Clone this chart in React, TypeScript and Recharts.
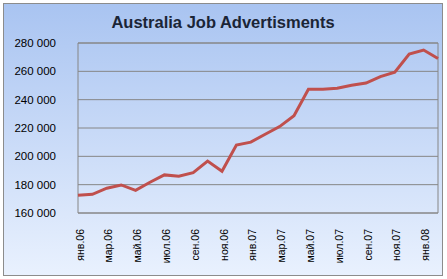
import { LineChart, Line, XAxis, YAxis, CartesianGrid, ReferenceArea } from "recharts";

const months = [
  "янв.06", "фев.06", "мар.06", "апр.06", "май.06", "июн.06", "июл.06", "авг.06",
  "сен.06", "окт.06", "ноя.06", "дек.06", "янв.07", "фев.07", "мар.07", "апр.07",
  "май.07", "июн.07", "июл.07", "авг.07", "сен.07", "окт.07", "ноя.07", "дек.07",
  "янв.08", "фев.08",
];

const adverts = [
  172500, 173200, 177500, 179800, 176000, 181700, 186900, 186000,
  188500, 196700, 189500, 208000, 210000, 215600, 221000, 228700,
  247400, 247400, 248100, 250200, 251700, 256300, 259400, 272200,
  275000, 269000,
];

const yTicks = [160000, 180000, 200000, 220000, 240000, 260000, 280000];

const data = months.map((m, i) => ({ month: m, value: adverts[i] }));

const font = "'Liberation Sans', Arial, sans-serif";

const MonthTick = (props: any) => {
  const { x, y, payload } = props;
  return (
    <text
      x={x + 2}
      y={y + 8}
      transform={`rotate(-90 ${x + 2} ${y + 8})`}
      textAnchor="end"
      dy="0.35em"
      fontSize={10.5}
      fontFamily={font}
      fill="#000"
    >
      {payload.value}
    </text>
  );
};

export default function App() {
  return (
    <div
      style={{
        position: "absolute",
        left: 3,
        top: 3,
        width: 438,
        height: 271,
        border: "1px solid #8c8c8c",
        background: "linear-gradient(to bottom, #a9c4f1, #e9f1fe)",
      }}
    >
      <div
        style={{
          position: "absolute",
          left: 0,
          right: 0,
          top: 9,
          textAlign: "center",
          fontFamily: font,
          fontWeight: "bold",
          fontSize: 16.5,
          color: "#1b2536",
        }}
      >
        Australia Job Advertisments
      </div>
      <LineChart
        width={438}
        height={271}
        data={data}
        margin={{ top: 39, right: 4, bottom: 0, left: 0 }}
      >
        <CartesianGrid vertical={false} stroke="#868686" strokeWidth={1} />
        <ReferenceArea y1={160000} y2={280000} fill="none" stroke="#868686" strokeWidth={1} />
        <XAxis
          dataKey="month"
          interval={1}
          axisLine={false}
          tickLine={false}
          tick={<MonthTick />}
          height={62}
        />
        <YAxis
          domain={[160000, 280000]}
          ticks={yTicks}
          width={74}
          axisLine={false}
          tickLine={false}
          tickSize={0}
          tickMargin={22}
          tick={{ fontSize: 11.5, fontFamily: font, fill: "#000" }}
          tickFormatter={(v: number) => `${v / 1000} 000`}
        />
        <Line
          type="linear"
          dataKey="value"
          stroke="#c0504d"
          strokeWidth={3}
          dot={false}
          isAnimationActive={false}
        />
      </LineChart>
    </div>
  );
}
